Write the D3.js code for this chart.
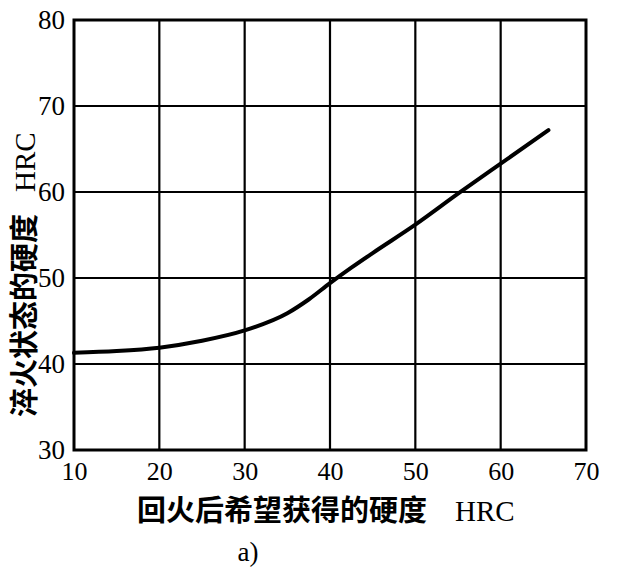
<!DOCTYPE html>
<html><head><meta charset="utf-8">
<script src="https://cdn.jsdelivr.net/npm/d3@7"></script>
<style>body{margin:0;background:#fff}</style>
</head><body><svg id="c" width="626" height="577"></svg>
<script>
const xTicks = [10,20,30,40,50,60,70];
const yTicks = [30,40,50,60,70,80];
const temperedHRC = [10,15,20,25,30,35,37.5,40,42.5,45,50,55,60,65.6];
const quenchedHRC = [41.3,41.5,41.9,42.7,43.9,45.9,47.5,49.4,51.2,52.9,56.2,59.8,63.3,67.2];
const xTitle = "回火后希望获得的硬度";
const yTitle = "淬火状态的硬度";
const unit = "HRC";
const caption = "a)";

const svg = d3.select("#c");
const L=74,R=586,T=20,B=450;
const x = d3.scaleLinear().domain([10,70]).range([L,R]);
const y = d3.scaleLinear().domain([30,80]).range([B,T]);
const serif = "'Liberation Serif','Times New Roman',serif";
const cjk = "'Noto Sans CJK SC','Noto Sans CJK TC',sans-serif";

// grid
svg.append("g").selectAll("line").data(xTicks.slice(1,-1)).join("line")
  .attr("x1",d=>x(d)).attr("x2",d=>x(d)).attr("y1",T).attr("y2",B)
  .attr("stroke","#000").attr("stroke-width",2.2);
svg.append("g").selectAll("line").data(yTicks.slice(1,-1)).join("line")
  .attr("x1",L).attr("x2",R).attr("y1",d=>y(d)).attr("y2",d=>y(d))
  .attr("stroke","#000").attr("stroke-width",2.2);
svg.append("rect").attr("x",L).attr("y",T).attr("width",R-L).attr("height",B-T)
  .attr("fill","none").attr("stroke","#000").attr("stroke-width",3);

// axes labels via d3 axes (no lines)
const xa = svg.append("g").attr("transform",`translate(0,${B})`)
  .call(d3.axisBottom(x).tickValues(xTicks).tickSize(0).tickPadding(12));
xa.select(".domain").remove();
xa.selectAll("text").attr("font-family",serif).attr("font-size",26).attr("fill","#000");
const ya = svg.append("g").attr("transform",`translate(${L},0)`)
  .call(d3.axisLeft(y).tickValues(yTicks).tickSize(0).tickPadding(9));
ya.select(".domain").remove();
ya.selectAll("text").attr("font-family",serif).attr("font-size",27).attr("fill","#000");

// curve
const pts = temperedHRC.map((v,i)=>[v,quenchedHRC[i]]);
svg.append("path").datum(pts)
  .attr("d",d3.line().x(d=>x(d[0])).y(d=>y(d[1])).curve(d3.curveMonotoneX))
  .attr("fill","none").attr("stroke","#000").attr("stroke-width",4).attr("stroke-linecap","round");

// x title
const xt = svg.append("text").attr("x",137).attr("y",521).attr("fill","#000");
xt.append("tspan").attr("font-family",cjk).attr("font-weight","bold").attr("font-size",29).text(xTitle);
xt.append("tspan").attr("font-family",serif).attr("font-size",29).attr("dx",28).text(unit);

// y title
const yt = svg.append("text").attr("transform","translate(35,417) rotate(-90)").attr("fill","#000");
yt.append("tspan").attr("font-family",cjk).attr("font-weight","bold").attr("font-size",29).text(yTitle);
yt.append("tspan").attr("font-family",serif).attr("font-size",29).attr("dx",22).text(unit);

svg.append("text").attr("x",248).attr("y",561).attr("text-anchor","middle")
  .attr("font-family",serif).attr("font-size",27).attr("fill","#000").text(caption);
</script></body></html>
